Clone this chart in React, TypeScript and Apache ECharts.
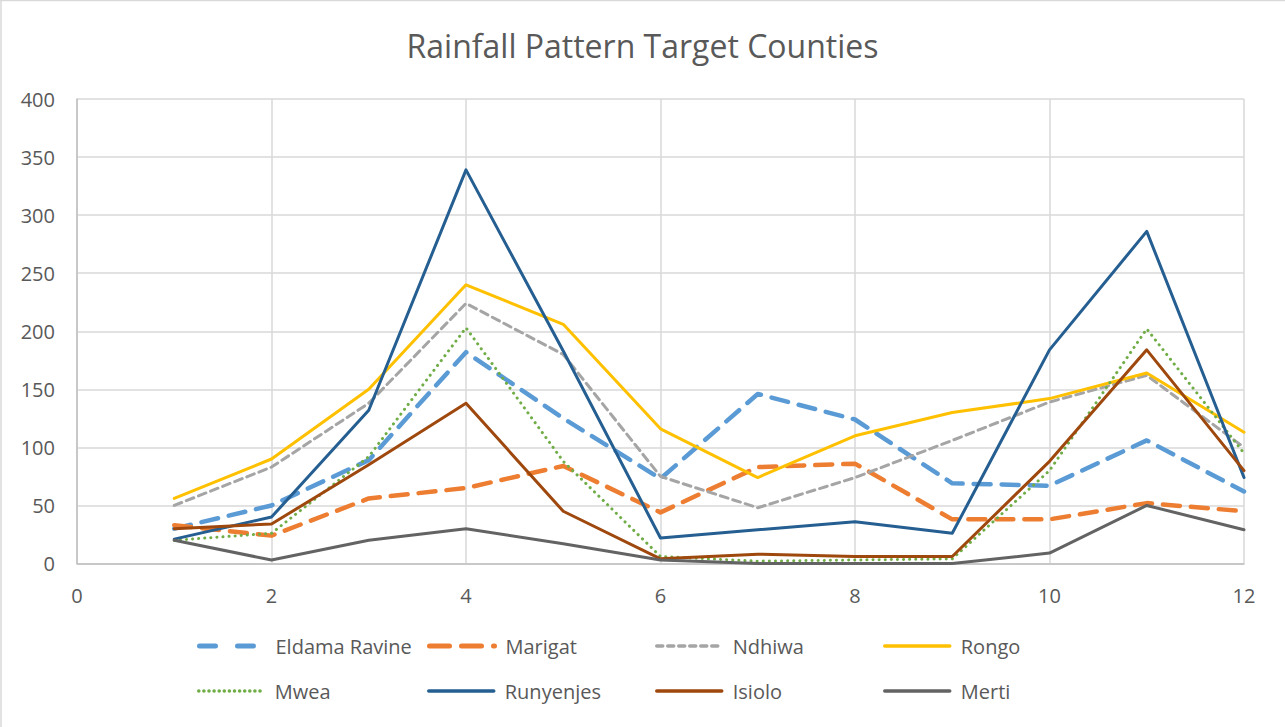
import React, { useEffect, useRef } from "react";
import * as echarts from "echarts";

const titleText = "Rainfall Pattern Target Counties";
const months = [1, 2, 3, 4, 5, 6, 7, 8, 9, 10, 11, 12];
const counties = ["Eldama Ravine", "Marigat", "Ndhiwa", "Rongo", "Mwea", "Runyenjes", "Isiolo", "Merti"];

const eldamaRavine = [30, 50, 89, 182, 125, 73, 146, 124, 69, 67, 106, 62];
const marigat = [33, 24, 56, 65, 84, 44, 83, 86, 38, 38, 52, 45];
const ndhiwa = [50, 83, 138, 224, 180, 75, 48, 74, 106, 139, 162, 100];
const rongo = [56, 90, 150, 240, 206, 116, 74, 110, 130, 142, 164, 113];
const mwea = [20, 26, 92, 203, 88, 6, 2, 3, 4, 80, 202, 95];
const runyenjes = [21, 40, 132, 339, 183, 22, 29, 36, 26, 184, 286, 74];
const isiolo = [30, 34, 85, 138, 45, 4, 8, 6, 6, 88, 184, 80];
const merti = [20, 3, 20, 30, 17, 3, 0, 0, 0, 9, 50, 29];

const seriesValues = [eldamaRavine, marigat, ndhiwa, rongo, mwea, runyenjes, isiolo, merti];
const colors = ["#5B9BD5", "#ED7D31", "#A5A5A5", "#FFC000", "#70AD47", "#255E91", "#9E480E", "#636363"];
const widths = [4.5, 4.5, 3, 3, 3, 3, 3, 3];
const dashes: any[] = [[17, 11], [17, 11], [8, 5], "solid", [0.1, 6], "solid", "solid", "solid"];
const legendDashes: any[] = [[16, 22], [20, 12], [6, 5], "solid", [0.1, 5], "solid", "solid", "solid"];

const legendCols = [197, 427, 655, 883];
const legendRows = [636, 681];

const FONT = "Open Sans";
const TEXT = "#595959";

export default function App() {
  const ref = useRef<HTMLDivElement>(null);
  useEffect(() => {
    document.body.style.margin = "0";
    const chart = echarts.init(ref.current!, null, { renderer: "svg" });
    const series = counties.map((name, k) => ({
      name,
      type: "line",
      data: months.map((m, i) => [m, seriesValues[k][i]]),
      symbol: "none",
      lineStyle: {
        color: colors[k],
        width: widths[k],
        type: dashes[k],
        cap: "round",
        join: "round",
      },
      itemStyle: { color: colors[k] },
      z: 2 + k,
    }));
    const legends = counties.map((name, k) => ({
      data: [name],
      left: legendCols[k % 4],
      top: legendRows[Math.floor(k / 4)],
      itemWidth: 65,
      itemHeight: 20,
      padding: 0,
      itemStyle: { opacity: 0 },
      lineStyle: { width: widths[k] + 0.5, type: legendDashes[k], cap: "round" },
      textStyle: {
        color: TEXT,
        fontFamily: FONT,
        fontSize: 20,
        padding: [0, 0, 0, 6],
      },
    }));
    chart.setOption({
      animation: false,
      backgroundColor: "#ffffff",
      textStyle: { fontFamily: FONT },
      title: {
        text: titleText,
        left: "center",
        top: 24,
        textStyle: { color: TEXT, fontFamily: FONT, fontSize: 32, fontWeight: "normal" },
      },
      legend: legends,
      grid: {
        left: 77,
        right: 41,
        top: 99,
        bottom: 163.5,
        containLabel: false,
        outerBoundsMode: "none",
      },
      xAxis: {
        type: "value",
        min: 0,
        max: 12,
        interval: 2,
        axisLine: { show: true, lineStyle: { color: "#BFBFBF", width: 1.5 } },
        axisTick: { show: false },
        splitLine: { show: true, lineStyle: { color: "#D9D9D9", width: 1.5 } },
        axisLabel: { color: TEXT, fontFamily: FONT, fontSize: 20, margin: 22 },
      },
      yAxis: {
        type: "value",
        min: 0,
        max: 400,
        interval: 50,
        axisLine: { show: true, lineStyle: { color: "#BFBFBF", width: 1.5 } },
        axisTick: { show: false },
        splitLine: { show: true, lineStyle: { color: "#D9D9D9", width: 1.5 } },
        axisLabel: { color: TEXT, fontFamily: FONT, fontSize: 20, margin: 22 },
      },
      graphic: [
        { type: "line", shape: { x1: 1, y1: 0, x2: 1, y2: 727 }, style: { stroke: "#D9D9D9", lineWidth: 1.5 } },
        { type: "line", shape: { x1: 0, y1: 0.5, x2: 1285, y2: 0.5 }, style: { stroke: "#D9D9D9", lineWidth: 1.5 } },
      ],
      series,
    });
    return () => chart.dispose();
  }, []);
  return <div ref={ref} style={{ width: 1285, height: 727 }} />;
}
